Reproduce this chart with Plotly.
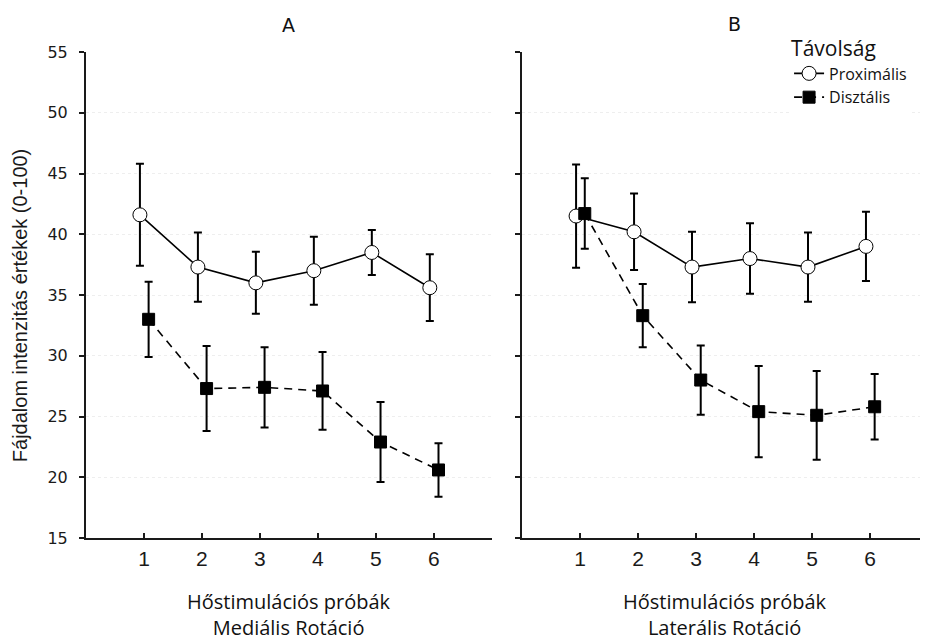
import numpy as np
import plotly.graph_objects as go

trials = [1, 2, 3, 4, 5, 6]
tick_labels = ["1", "2", "3", "4", "5", "6"]

a_prox = [41.6, 37.3, 36.0, 37.0, 38.5, 35.6]
a_prox_err = [4.2, 2.85, 2.55, 2.8, 1.85, 2.75]
a_dist = [33.0, 27.3, 27.4, 27.1, 22.9, 20.6]
a_dist_err = [3.1, 3.5, 3.3, 3.2, 3.3, 2.2]

b_prox = [41.5, 40.2, 37.3, 38.0, 37.3, 39.0]
b_prox_err = [4.25, 3.15, 2.9, 2.9, 2.85, 2.85]
b_dist = [41.7, 33.3, 28.0, 25.4, 25.1, 25.8]
b_dist_err = [2.9, 2.6, 2.85, 3.75, 3.65, 2.7]

PROX_OFF = -0.07
DIST_OFF = 0.08

x_prox = np.array(trials) + PROX_OFF
x_dist = np.array(trials) + DIST_OFF

fig = go.Figure()

def add_pair(prox, prox_err, dist, dist_err, xa, ya, show):
    fig.add_trace(go.Scatter(
        x=x_prox, y=prox, mode="lines+markers", name="Proximális",
        xaxis=xa, yaxis=ya, showlegend=show, legendrank=1,
        line=dict(color="black", width=1.6),
        marker=dict(symbol="circle", size=14, color="white",
                    line=dict(color="black", width=1)),
        error_y=dict(type="data", array=prox_err, color="black",
                     thickness=2, width=4),
    ))
    fig.add_trace(go.Scatter(
        x=x_dist, y=dist, mode="lines+markers", name="Disztális",
        xaxis=xa, yaxis=ya, showlegend=show, legendrank=2,
        line=dict(color="black", width=1.6, dash="8px,6px"),
        marker=dict(symbol="square", size=12, color="black",
                    line=dict(color="black", width=1)),
        error_y=dict(type="data", array=dist_err, color="black",
                     thickness=2, width=4),
    ))

add_pair(a_prox, a_prox_err, a_dist, a_dist_err, "x", "y", False)
add_pair(b_prox, b_prox_err, b_dist, b_dist_err, "x2", "y2", True)

ARIAL = "Liberation Sans, Arial, sans-serif"
WIDE = "DejaVu Sans, sans-serif"
CAL = "Open Sans, Noto Sans, sans-serif"

xcommon = dict(range=[0, 7], tickmode="array", tickvals=trials, ticktext=tick_labels,
               showline=True, linecolor="#1a1a1a", linewidth=2, ticks="inside",
               ticklen=5, tickwidth=1.5, tickcolor="#1a1a1a", showgrid=False,
               zeroline=False, tickfont=dict(family=ARIAL, size=21, color="#1a1a1a"),
               ticklabelstandoff=1)
ycommon = dict(range=[15, 55], dtick=5, tick0=15, showline=True, linecolor="#1a1a1a",
               linewidth=2, ticks="outside", ticklen=5, tickwidth=1.5, tickcolor="#1a1a1a",
               showgrid=True, gridcolor="#eeeeee", griddash="dot", gridwidth=1,
               zeroline=False, ticklabelstandoff=8,
               tickfont=dict(family=WIDE, size=16, color="#1a1a1a"))

# page body has an 8px margin, so the figure is 8px smaller each way
fig.update_layout(
    width=920, height=634,
    margin=dict(l=78, r=0, t=44, b=104),
    paper_bgcolor="white", plot_bgcolor="white",
    xaxis=dict(domain=[0, 0.482], anchor="y", **xcommon),
    xaxis2=dict(domain=[0.518, 1], anchor="y2", **xcommon),
    yaxis=dict(domain=[0, 1], anchor="x", **ycommon),
    yaxis2=dict(domain=[0, 1], anchor="x2", showticklabels=False, **ycommon),
    showlegend=True,
    legend=dict(
        x=0.835, y=1.047, xanchor="left", yanchor="top",
        bgcolor="white", borderwidth=0,
        title=dict(text="Távolság", side="top",
                   font=dict(family=CAL, size=21, color="#111")),
        font=dict(family=CAL, size=16, color="#111"),
        tracegroupgap=0, itemwidth=30,
    ),
)

annots = [
    dict(text="Fájdalom intenzitás értékek (0-100)", x=-0.0784, y=0.479,
         xref="paper", yref="paper", showarrow=False, textangle=-90,
         xanchor="center", yanchor="middle",
         font=dict(family=ARIAL, size=20, color="#1a1a1a")),
    dict(text="A", x=0.241, y=1.055, xref="paper", yref="paper", showarrow=False,
         xanchor="center", yanchor="middle",
         font=dict(family=WIDE, size=19, color="#111")),
    dict(text="B", x=0.77, y=1.058, xref="paper", yref="paper", showarrow=False,
         xanchor="center", yanchor="middle",
         font=dict(family=WIDE, size=19, color="#111")),
    dict(text="Hőstimulációs próbák<br>Mediális Rotáció", x=0.241, y=-0.158,
         xref="paper", yref="paper", showarrow=False, xanchor="center",
         yanchor="middle", font=dict(family=CAL, size=20, color="#111")),
    dict(text="Hőstimulációs próbák<br>Laterális Rotáció", x=0.759, y=-0.158,
         xref="paper", yref="paper", showarrow=False, xanchor="center",
         yanchor="middle", font=dict(family=CAL, size=20, color="#111")),
]
fig.update_layout(annotations=annots)

fig.write_html("out.html")
